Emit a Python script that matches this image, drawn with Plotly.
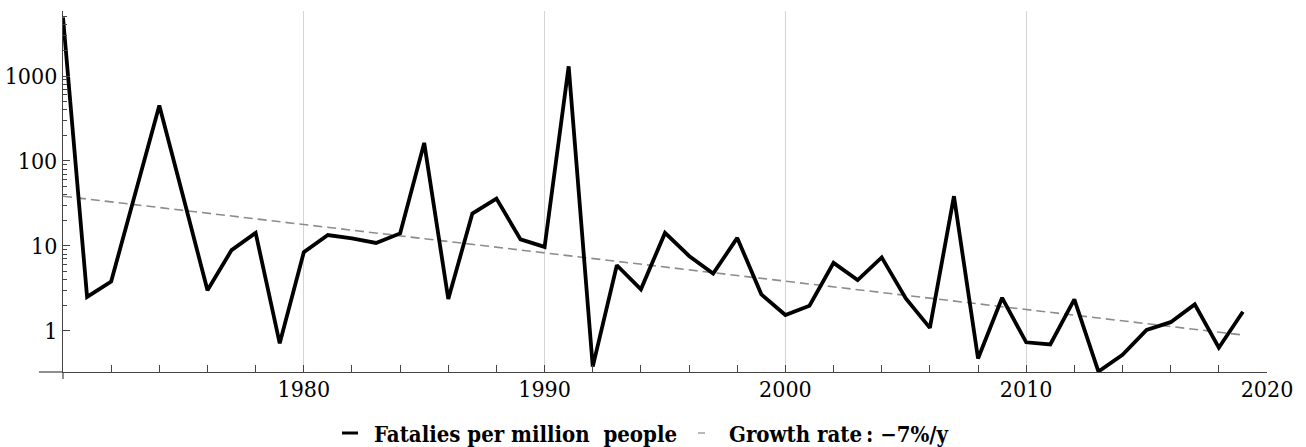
import plotly.graph_objects as go

# Yearly fatalities per million people, 1970-2019
years = list(range(1970, 2020))
fatalities = [4900, 2.5, 3.8, 40, 450, 37, 3.0, 8.9, 14.2, 0.71,
              8.4, 13.4, 12.2, 10.8, 14.0, 163, 2.36, 24, 36, 11.9,
              9.7, 1300, 0.377, 5.9, 3.07, 14.2, 7.6, 4.7, 12.4, 2.68,
              1.53, 1.97, 6.3, 3.95, 7.3, 2.4, 1.08, 38.4, 0.47, 2.44,
              0.73, 0.69, 2.34, 0.33, 0.52, 1.02, 1.26, 2.04, 0.63, 1.67]

# Exponential trend (straight on the log axis), endpoints of the fit
trend_years = [1970, 2019]
trend_values = [38.4, 0.89]
growth_rate_pct = -7

x_ticks = [1980, 1990, 2000, 2010, 2020]
y_ticks = [1, 10, 100, 1000]
y_tick_labels = ["1", "10", "100", "1000"]
y_minor = [m * 10 ** k for k in range(0, 3) for m in range(2, 10)] + [2000, 3000, 4000, 5000]

W, H = 1306, 447
L, R, T, B = 63, 39, 11, 75
PW, PH = W - L - R, H - T - B


def px_x(x):
    return (x - L) / PW


def px_y(y):
    return (H - B - y) / PH


SERIF = "DejaVu Serif Condensed, DejaVu Serif"
AXIS_COLOR = "#444444"

fig = go.Figure()
fig.add_trace(go.Scatter(
    x=trend_years, y=trend_values, mode="lines",
    name=f"Growth rate: {growth_rate_pct}%/y",
    line=dict(color="#8c8c8c", width=1.6, dash="9px,5px"),
    showlegend=False,
))
fig.add_trace(go.Scatter(
    x=years, y=fatalities, mode="lines",
    name="Fatalies per million  people",
    line=dict(color="black", width=3.8),
    showlegend=False,
))

fig.update_layout(
    width=W, height=H,
    margin=dict(l=L, r=R, t=T, b=B, pad=0),
    plot_bgcolor="white", paper_bgcolor="white",
    font=dict(family=SERIF, size=23, color="black"),
    xaxis=dict(
        range=[1970, 2020], tickmode="array", tickvals=x_ticks,
        ticks="inside", ticklen=7, tickwidth=1, tickcolor=AXIS_COLOR,
        showline=True, linecolor=AXIS_COLOR, linewidth=1.2,
        showgrid=True, gridcolor="#d4d4d4", gridwidth=1,
        zeroline=False, automargin=False, ticklabelstandoff=-4,
        minor=dict(tick0=1970, dtick=2, ticks="inside", ticklen=7,
                   tickwidth=1, tickcolor=AXIS_COLOR, showgrid=False),
        tickfont=dict(family=SERIF, size=23, color="black"),
    ),
    yaxis=dict(
        type="log", range=[-0.4865, 3.766],
        tickmode="array", tickvals=y_ticks, ticktext=y_tick_labels,
        ticks="inside", ticklen=7, tickwidth=1, tickcolor=AXIS_COLOR,
        showline=True, linecolor=AXIS_COLOR, linewidth=1.2,
        showgrid=False, zeroline=False, automargin=False,
        minor=dict(tickvals=y_minor, ticks="inside", ticklen=4,
                   tickwidth=1, tickcolor=AXIS_COLOR, showgrid=False),
        tickfont=dict(family=SERIF, size=23, color="black"),
    ),
    shapes=[
        # axis lines run slightly past their crossing point
        dict(type="line", xref="paper", yref="paper",
             x0=px_x(39), x1=0, y0=0, y1=0,
             line=dict(color=AXIS_COLOR, width=1.2)),
        dict(type="line", xref="paper", yref="paper",
             x0=0, x1=0, y0=0, y1=px_y(379),
             line=dict(color=AXIS_COLOR, width=1.2)),
        # legend keys
        dict(type="line", xref="paper", yref="paper",
             x0=px_x(342), x1=px_x(358), y0=px_y(433), y1=px_y(433),
             line=dict(color="black", width=3)),
        dict(type="line", xref="paper", yref="paper",
             x0=px_x(698), x1=px_x(705), y0=px_y(433), y1=px_y(433),
             line=dict(color="#a0a0a0", width=1.5)),
    ],
    annotations=[
        dict(text="<b>Fatalies per million\u00a0\u00a0people</b>",
             xref="paper", yref="paper", x=px_x(372), y=px_y(434),
             xanchor="left", yanchor="middle", showarrow=False,
             font=dict(family=SERIF, size=22, color="black")),
        dict(text=f"<b>Growth rate\u2009:\u00a0\u2212{abs(growth_rate_pct)}%/y</b>",
             xref="paper", yref="paper", x=px_x(727), y=px_y(434),
             xanchor="left", yanchor="middle", showarrow=False,
             font=dict(family=SERIF, size=22, color="black")),
    ],
)

fig.write_html("out.html")
